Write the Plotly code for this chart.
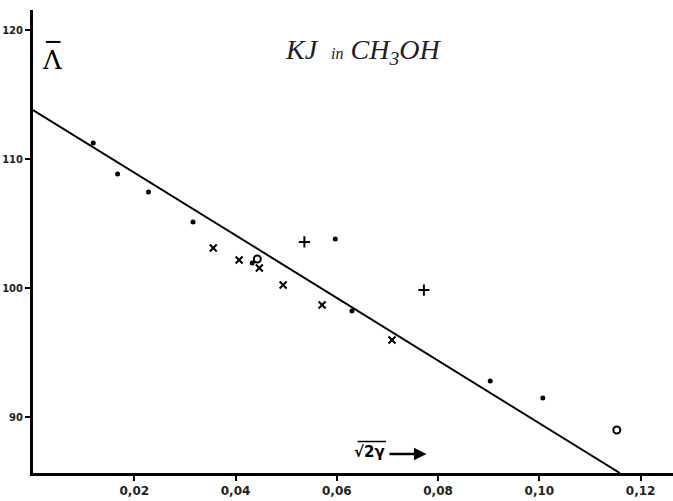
import plotly.graph_objects as go

# Data (x = sqrt(2γ), y = Λ̄)
dots_x = [0.0119, 0.0167, 0.0228, 0.0316, 0.0433, 0.0597, 0.0630, 0.0903, 0.1007]
dots_y = [111.24, 108.84, 107.44, 105.12, 101.94, 103.80, 98.22, 92.79, 91.47]

cross_x = [0.0356, 0.0407, 0.0447, 0.0494, 0.0571, 0.0709]
cross_y = [103.10, 102.17, 101.55, 100.23, 98.68, 95.97]

plus_x = [0.0536, 0.0772]
plus_y = [103.57, 99.84]

ring_x = [0.0443, 0.1153]
ring_y = [102.25, 88.99]

line_x = [0.0, 0.1159]
line_y = [113.8, 85.66]

x_ticks = [0.02, 0.04, 0.06, 0.08, 0.10, 0.12]
x_tick_labels = ["0,02", "0,04", "0,06", "0,08", "0,10", "0,12"]
y_ticks = [90, 100, 110, 120]
y_tick_labels = ["90", "100", "110", "120"]

fig = go.Figure()
fig.add_trace(go.Scatter(x=line_x, y=line_y, mode="lines",
                         line=dict(color="black", width=2), showlegend=False))
fig.add_trace(go.Scatter(x=dots_x, y=dots_y, mode="markers",
                         marker=dict(symbol="circle", size=5, color="black"), showlegend=False))
fig.add_trace(go.Scatter(x=cross_x, y=cross_y, mode="markers",
                         marker=dict(symbol="x-thin", size=7, line=dict(color="black", width=2)),
                         showlegend=False))
fig.add_trace(go.Scatter(x=plus_x, y=plus_y, mode="markers",
                         marker=dict(symbol="cross-thin", size=8, line=dict(color="black", width=2)),
                         showlegend=False))
fig.add_trace(go.Scatter(x=ring_x, y=ring_y, mode="markers",
                         marker=dict(symbol="circle-open", size=7, color="black", line=dict(width=2)),
                         showlegend=False))

fig.update_layout(
    width=673, height=501,
    margin=dict(l=33, r=0, t=10, b=28),
    paper_bgcolor="white", plot_bgcolor="white",
    xaxis=dict(range=[0, 0.1264], tickvals=x_ticks, ticktext=x_tick_labels, automargin=False,
               showgrid=False, zeroline=False, showline=True, linecolor="black", linewidth=3,
               ticks="outside", ticklen=5, tickwidth=2, tickcolor="black",
               tickfont=dict(family="DejaVu Sans", size=12, color="#222", weight="bold")),
    yaxis=dict(range=[85.66, 121.55], tickvals=y_ticks, ticktext=y_tick_labels, automargin=False,
               showgrid=False, zeroline=False, showline=True, linecolor="black", linewidth=3,
               ticks="outside", ticklen=5, tickwidth=2, tickcolor="black", ticklabelstandoff=0,
               tickfont=dict(family="DejaVu Sans", size=10, color="#222", weight="bold")),
    annotations=[
        dict(xref="paper", yref="paper", x=0.515, y=0.91, xanchor="center", yanchor="middle",
             text="<i>KJ</i>  <i><span style='font-size:16px'>in</span> CH<sub>3</sub>OH</i>",
             showarrow=False, font=dict(family="Liberation Serif", size=28, color="#222")),
        dict(xref="paper", yref="paper", x=0.0297, y=0.893, xanchor="center", yanchor="middle",
             text="Λ", showarrow=False,
             font=dict(family="DejaVu Serif", size=26, color="black")),
        dict(xref="x", yref="y", x=0.0664, y=87.3, xanchor="center", yanchor="middle",
             text="√2γ", showarrow=False,
             font=dict(family="DejaVu Sans", size=15, color="black", weight="bold")),
        dict(xref="x", yref="y", x=0.0777, y=87.13, ax=-40, ay=0, text=" ",
             showarrow=True, arrowhead=2, arrowsize=1, arrowwidth=2.5, arrowcolor="black"),
    ],
    shapes=[
        dict(type="line", xref="paper", yref="paper", x0=0.02, x1=0.043, y0=0.931, y1=0.931,
             line=dict(color="black", width=2)),
        dict(type="line", xref="x", yref="y", x0=0.0641, x1=0.0697, y0=88.1, y1=88.1,
             line=dict(color="black", width=1.5)),
    ],
)

fig.write_html("out.html", config={"displayModeBar": False},
               post_script="document.body.style.margin='0';")
